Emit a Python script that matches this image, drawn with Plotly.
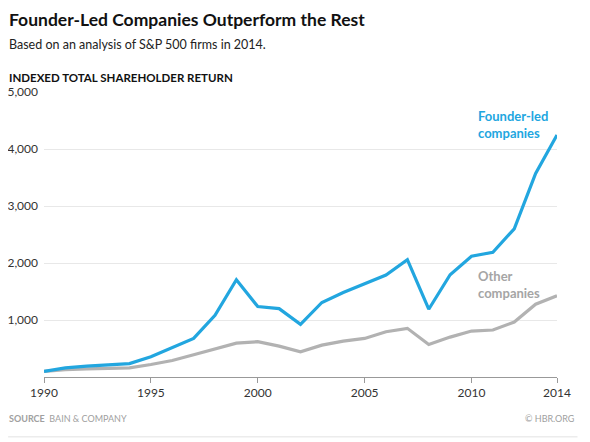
import plotly.graph_objects as go

# Indexed total shareholder return, S&P 500 firms
years = list(range(1990, 2015))
founder_led = [100, 160, 190, 207, 236, 354, 513, 677, 1083, 1706, 1236, 1200, 924,
               1307, 1483, 1630, 1788, 2058, 1189, 1794, 2118, 2189, 2600, 3570, 4245]
other = [100, 130, 143, 150, 160, 219, 289, 390, 496, 594, 619, 541, 443,
         559, 630, 677, 795, 854, 571, 700, 806, 824, 965, 1277, 1424]
x_ticks = [1990, 1995, 2000, 2005, 2010, 2014]
y_ticks = [1000, 2000, 3000, 4000, 5000]

blue = "#22a6df"
grey = "#b2b2b2"
font = "Lato"

fig = go.Figure()
fig.add_trace(go.Scatter(x=years, y=other, mode="lines",
                         line=dict(color=grey, width=3.2), hoverinfo="skip"))
fig.add_trace(go.Scatter(x=years, y=founder_led, mode="lines",
                         line=dict(color=blue, width=3.2), hoverinfo="skip"))

# series labels
fig.add_annotation(x=2010.2, y=4430, xref="x", yref="y", text="<b>Founder-led<br>companies</b>",
                   showarrow=False, xanchor="left", yanchor="middle", align="left",
                   font=dict(family=font, size=13, color=blue))
fig.add_annotation(x=2010.2, y=1630, xref="x", yref="y", text="<b>Other<br>companies</b>",
                   showarrow=False, xanchor="left", yanchor="middle", align="left",
                   font=dict(family=font, size=13, color="#a5a5a5"))

# header and footer texts
fig.add_annotation(x=-0.072, y=1.253, xref="paper", yref="paper",
                   text="<b>Founder-Led Companies Outperform the Rest</b>",
                   showarrow=False, xanchor="left", yanchor="middle",
                   font=dict(family=font, size=17.5, color="#111111"))
fig.add_annotation(x=-0.072, y=1.166, xref="paper", yref="paper",
                   text="Based on an analysis of S&P 500 firms in 2014.",
                   showarrow=False, xanchor="left", yanchor="middle",
                   font=dict(family=font, size=12.5, color="#222222"))
fig.add_annotation(x=-0.072, y=1.05, xref="paper", yref="paper",
                   text="<b>INDEXED TOTAL SHAREHOLDER RETURN</b>",
                   showarrow=False, xanchor="left", yanchor="middle",
                   font=dict(family=font, size=11.5, color="#111111"))
fig.add_annotation(x=-0.072, y=-0.147, xref="paper", yref="paper",
                   text="<b>SOURCE</b>  BAIN & COMPANY",
                   showarrow=False, xanchor="left", yanchor="middle",
                   font=dict(family=font, size=9, color="#a0a0a0"))
fig.add_annotation(x=1.039, y=-0.147, xref="paper", yref="paper",
                   text="© HBR.ORG",
                   showarrow=False, xanchor="right", yanchor="middle",
                   font=dict(family=font, size=9, color="#a0a0a0"))

# thin rules at the top and bottom of the graphic
for yy in (1.305, -0.21):
    fig.add_shape(type="line", xref="paper", yref="paper", x0=-0.07, x1=1.04,
                  y0=yy, y1=yy, line=dict(color="#e3e3e3", width=1))

# the page puts the figure 8px in from the top left, so margins are trimmed by that
fig.update_layout(
    width=590, height=442,
    margin=dict(l=36, r=41, t=84, b=73),
    paper_bgcolor="white", plot_bgcolor="white",
    showlegend=False,
    font=dict(family=font, size=11.5, color="#444444"),
)
fig.update_xaxes(range=[1990, 2014], tickvals=x_ticks, showgrid=False, zeroline=False,
                 showline=True, linecolor="#999999", linewidth=1, automargin=False,
                 ticks="outside", ticklen=5, tickcolor="#999999",
                 tickfont=dict(family=font, size=12, color="#333333"))
fig.update_yaxes(range=[0, 5000], tickvals=y_ticks, tickformat=",",
                 showgrid=True, gridcolor="#e8e8e8", gridwidth=1, zeroline=False,
                 ticks="", ticklabelstandoff=5, automargin=False,
                 tickfont=dict(family=font, size=12, color="#333333"))

fig.write_html("out.html")
